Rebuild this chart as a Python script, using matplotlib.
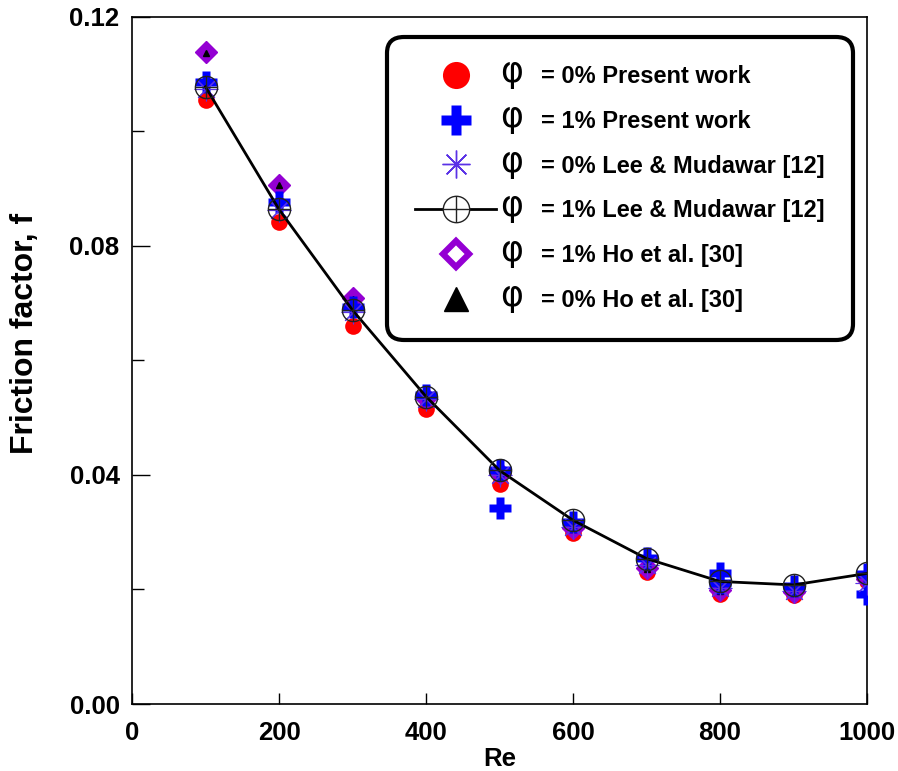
import numpy as np
import matplotlib
matplotlib.use("Agg")
import matplotlib.pyplot as plt
from matplotlib.lines import Line2D
from matplotlib.ticker import MultipleLocator

plt.rcParams['font.family'] = ['Liberation Sans', 'DejaVu Sans']
plt.rcParams['font.weight'] = 'bold'

# data
re = [100, 200, 300, 400, 500, 600, 700, 800, 900, 1000]
f_present_0 = [0.1055, 0.0842, 0.0661, 0.0515, 0.0385, 0.0298, 0.0231, 0.0193, 0.0190, 0.0214]
f_present_1 = [0.1087, 0.0877, 0.0694, 0.0540, 0.0409, 0.0318, 0.0255, 0.0228, 0.0206, 0.0227]
re_present_1_extra = [500, 800, 1000]
f_present_1_extra = [0.0343, 0.0212, 0.0192]
f_lee_0 = [0.1075, 0.0862, 0.0685, 0.0533, 0.0400, 0.0310, 0.0243, 0.0202, 0.0198, 0.0212]
f_lee_1 = [0.1078, 0.0864, 0.0688, 0.0537, 0.0408, 0.0321, 0.0254, 0.0214, 0.0208, 0.0228]
f_ho_1 = [0.1138, 0.0907, 0.0709, 0.0535, 0.0403, 0.0307, 0.0238, 0.0199, 0.0196, 0.0218]
f_ho_0 = [0.1137, 0.0906, 0.0707, 0.0532, 0.0400, 0.0305, 0.0236, 0.0197, 0.0195, 0.0216]

labels = ["= 0% Present work", "= 1% Present work", "= 0% Lee & Mudawar [12]",
          "= 1% Lee & Mudawar [12]", "= 1% Ho et al. [30]", "= 0% Ho et al. [30]"]

red = '#ff0000'
blue = '#0000ff'
violet = '#5a32e6'
purple = '#9400d3'

fig = plt.figure(figsize=(8.98, 7.71), dpi=100)
ax = fig.add_axes([0.147, 0.0869, 0.8185, 0.8911])

ax.plot(re, f_present_0, 'o', color=red, ms=12, mec='none', zorder=2)
ax.plot(re, f_ho_1, 'D', color=purple, ms=11.5, mec=purple, mfc=purple, zorder=3)
ax.plot(re, f_ho_0, '^', color='black', ms=4, zorder=4)
ax.plot(re, f_present_1, 'P', color=blue, ms=16, mec='none', zorder=5)
ax.plot(re_present_1_extra, f_present_1_extra, 'P', color=blue, ms=16, mec='none', zorder=5)
ax.plot(re, f_lee_0, marker=(8, 2, 0), ls='none', color=violet, ms=17, mew=0.8, zorder=6)
ax.plot(re, f_lee_1, '-', color='black', lw=2, zorder=7)
ax.plot(re, f_lee_1, 'o', mfc='none', mec='#222222', ms=16, mew=1, zorder=7)
ax.plot(re, f_lee_1, '+', color='#222222', ms=16, mew=1, zorder=7)

ax.set_xlim(0, 1000)
ax.set_ylim(0, 0.12)
ax.xaxis.set_major_locator(MultipleLocator(200))
ax.yaxis.set_major_locator(MultipleLocator(0.04))
ax.yaxis.set_minor_locator(MultipleLocator(0.02))
ax.yaxis.set_major_formatter(matplotlib.ticker.FormatStrFormatter('%.2f'))
ax.tick_params(axis='both', which='both', direction='in', labelsize=18.5, width=1)
ax.tick_params(axis='y', which='major', length=13, pad=9)
ax.tick_params(axis='y', which='minor', length=8.5)
ax.tick_params(axis='x', which='major', length=8, pad=12)
for s in ax.spines.values():
    s.set_linewidth(1.2)

ax.set_xlabel('Re', fontsize=18.5, fontweight='bold', labelpad=2)
ax.set_ylabel('Friction factor, f', fontsize=23, fontweight='bold', labelpad=21)
ax.yaxis.label.set_y(0.539)

# legend with bigger proxy markers
h = [
    Line2D([], [], ls='none', marker='o', color=red, mec='none', ms=19.5),
    Line2D([], [], ls='none', marker='P', color=blue, mec='none', ms=21),
    Line2D([], [], ls='none', marker=(8, 2, 0), color=violet, ms=20, mew=1),
    (Line2D([], [], ls='-', color='black', lw=2, marker='o', mfc='white', mec='#222222', ms=19, mew=1),
     Line2D([], [], ls='none', marker='+', color='#222222', ms=19, mew=1)),
    Line2D([], [], ls='none', marker='D', mfc='white', mec=purple, ms=13, mew=4.5),
    Line2D([], [], ls='none', marker='^', color='black', ms=17),
]
leg = ax.legend(h, labels, loc='upper left', bbox_to_anchor=(0.347, 0.971),
                borderaxespad=0, prop={'size': 17, 'weight': 'bold'}, handlelength=3.4,
                handletextpad=1.92, labelspacing=0.92, borderpad=1.2,
                frameon=True, fancybox=True, framealpha=1, edgecolor='black')
leg.get_frame().set_linewidth(3)
leg.get_frame().set_boxstyle('round,pad=0,rounding_size=0.7')

fig.canvas.draw()
inv = fig.transFigure.inverted()
for t in leg.get_texts():
    bb = t.get_window_extent()
    x, y = inv.transform((bb.x0 - 29, bb.y0 + 6))
    fig.text(x, y, '\u03c6', fontsize=25, fontweight='normal', family='DejaVu Sans',
             ha='center', va='baseline', zorder=10)

fig.savefig('out.png', dpi=100)
